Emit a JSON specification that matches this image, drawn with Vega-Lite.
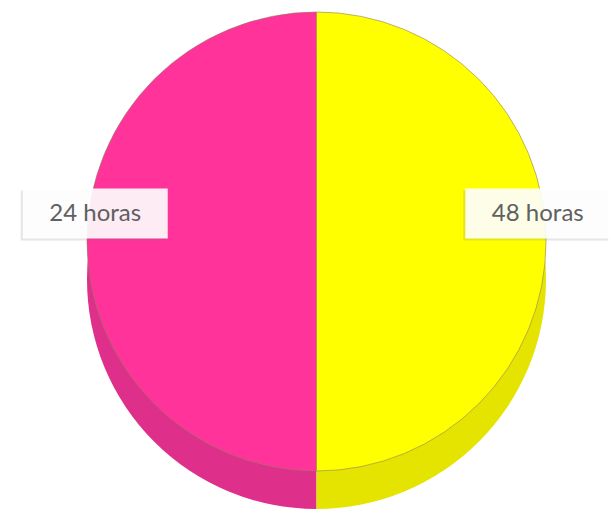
{
  "$schema": "https://vega.github.io/schema/vega-lite/v6.json",
  "width": 593,
  "height": 459,
  "autosize": "none",
  "padding": {"left": 20, "right": 0, "top": 12, "bottom": 46},
  "background": "#ffffff",
  "config": {"view": {"stroke": null}},
  "data": {"values": [
    {"category": "24 horas", "value": 50},
    {"category": "48 horas", "value": 50}
  ]},
  "layer": [
    {
      "mark": {"type": "arc", "yOffset": 38, "stroke": null},
      "encoding": {
        "theta": {"field": "value", "type": "quantitative", "stack": true},
        "order": {"field": "category", "sort": "descending"},
        "color": {"field": "category", "type": "nominal", "legend": null,
          "scale": {"domain": ["48 horas", "24 horas"], "range": ["#e4e400", "#de2f8a"]}}
      }
    },
    {
      "mark": {"type": "arc", "stroke": "#8f7f5f", "strokeWidth": 0.6},
      "encoding": {
        "theta": {"field": "value", "type": "quantitative", "stack": true},
        "order": {"field": "category", "sort": "descending"},
        "fill": {"field": "category", "type": "nominal", "legend": null,
          "scale": {"domain": ["48 horas", "24 horas"], "range": ["#ffff00", "#ff3399"]}}
      }
    },
    {
      "mark": {"type": "point", "filled": true, "shape": "M-1,-0.345L1,-0.345L1,0.345L-1,0.345Z", "size": 21025, "fill": "#707070", "fillOpacity": 0.18, "strokeWidth": 0, "yOffset": -26, "xOffset": -2},
      "encoding": {
        "x": {"field": "category", "type": "nominal", "axis": null,
          "scale": {"type": "point", "padding": 0.17, "domain": ["24 horas", "48 horas"]}}
      }
    },
    {
      "mark": {"type": "point", "filled": true, "shape": "M-1,-0.345L1,-0.345L1,0.345L-1,0.345Z", "size": 21025, "fill": "#ffffff", "fillOpacity": 0.9, "strokeWidth": 0, "yOffset": -28},
      "encoding": {
        "x": {"field": "category", "type": "nominal", "axis": null,
          "scale": {"type": "point", "padding": 0.17, "domain": ["24 horas", "48 horas"]}}
      }
    },
    {
      "mark": {"type": "text", "font": "Lato", "fontSize": 24, "color": "#606060", "yOffset": -28, "align": "center", "baseline": "middle"},
      "encoding": {
        "x": {"field": "category", "type": "nominal", "axis": null,
          "scale": {"type": "point", "padding": 0.17, "domain": ["24 horas", "48 horas"]}},
        "text": {"field": "category", "type": "nominal"}
      }
    }
  ],
  "resolve": {"scale": {"color": "independent", "fill": "independent"}}
}
